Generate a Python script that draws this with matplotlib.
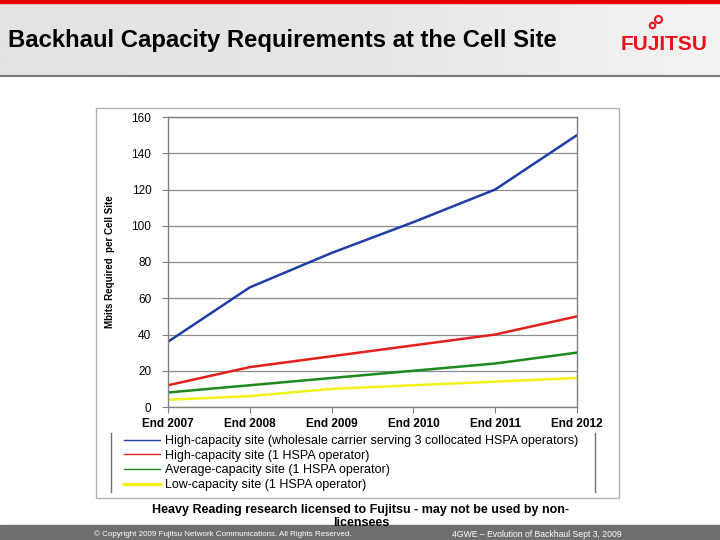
import numpy as np
import matplotlib.pyplot as plt
from matplotlib.colors import LinearSegmentedColormap
from matplotlib.patches import Rectangle
from matplotlib.lines import Line2D

years = ["End 2007", "End 2008", "End 2009", "End 2010", "End 2011", "End 2012"]

wholesale_site = [36, 66, 85, 102, 120, 150]
high_site = [12, 22, 28, 34, 40, 50]
average_site = [8, 12, 16, 20, 24, 30]
low_site = [4, 6, 10, 12, 14, 16]

labels = ["High-capacity site (wholesale carrier serving 3 collocated HSPA operators)",
          "High-capacity site (1 HSPA operator)",
          "Average-capacity site (1 HSPA operator)",
          "Low-capacity site (1 HSPA operator)"]
colors = ["#1f3ea6", "#e3201b", "#1e8a1e", "#f2f21a"]

W, H = 720, 540
fig = plt.figure(figsize=(7.2, 5.4), dpi=100)
fig.patch.set_facecolor("white")
FONT = "Liberation Sans"


def fx(x):
    return x / W


def fy(y):
    return 1 - y / H


# header band
hdr = fig.add_axes([0, fy(76), 1, 76 / H])
grad = np.linspace(0, 1, 256)[None, :]
hdr.imshow(grad, aspect="auto", extent=[0, 1, 0, 1],
           cmap=LinearSegmentedColormap.from_list("g", ["#e3e3e3", "#e6e6e6", "#f3f3f3"]))
hdr.axis("off")
fig.patches.append(Rectangle((0, fy(3)), 1, 3 / H, transform=fig.transFigure,
                             color="#e80000", zorder=3))
fig.add_artist(Line2D([0, 1], [fy(76), fy(76)], transform=fig.transFigure,
                      color="#7a7a7a", lw=1.5))
fig.text(fx(8), fy(40), "Backhaul Capacity Requirements at the Cell Site",
         family=FONT, weight="bold", fontsize=17.2, va="center", ha="left")
fig.text(fx(664), fy(45), "FUJITSU", family=FONT, weight="bold",
         fontsize=15, color="#e8141c", va="center", ha="center")
# little rings of the logo
fig.add_artist(Line2D([fx(652)], [fy(25)], transform=fig.transFigure, marker="o", ms=4,
                      mfc="none", mec="#e8141c", mew=1.5, ls="none"))
fig.add_artist(Line2D([fx(658)], [fy(19)], transform=fig.transFigure, marker="o", ms=5,
                      mfc="none", mec="#e8141c", mew=1.5, ls="none"))

# chart frame
fig.patches.append(Rectangle((fx(96), fy(498)), (619 - 96) / W, (498 - 108) / H,
                             transform=fig.transFigure, fill=False,
                             edgecolor="#b4b4b4", lw=1))

ax = fig.add_axes([fx(168), fy(407), (577 - 168) / W, (407 - 117) / H])
x = np.arange(len(years))
series = [wholesale_site, high_site, average_site, low_site]
for vals, c, lab in zip(series, colors, labels):
    ax.plot(x, vals, color=c, lw=1.8, label=lab)

ax.set_xlim(0, len(years) - 1)
ax.set_ylim(0, 160)
ax.set_yticks(range(0, 161, 20))
ax.set_xticks(x)
ax.set_xticklabels(years, family=FONT, weight="bold", fontsize=8.5)
ax.tick_params(axis="y", labelsize=8.5, length=4, color="#808080", pad=8)
ax.tick_params(axis="x", length=4, color="#808080", pad=4)
for lbl in ax.get_yticklabels():
    lbl.set_family(FONT)
ax.grid(axis="y", color="#8c8c8c", lw=0.9)
ax.set_axisbelow(True)
for s in ax.spines.values():
    s.set_color("#808080")
    s.set_linewidth(1)
ax.set_ylabel("Mbits Required  per Cell Site", family=FONT,
              weight="bold", fontsize=7, labelpad=12)

# legend
handles = [Line2D([], [], color=c, lw=(1 if c != colors[3] else 2.5)) for c in colors]
leg = fig.legend(handles, labels, loc="upper left", bbox_to_anchor=(fx(124), fy(435)),
                 frameon=False, prop={"family": FONT, "size": 9},
                 handlelength=2.9, handletextpad=0.35, labelspacing=0.22,
                 borderaxespad=0, borderpad=0)
for xx in (111, 595):
    fig.add_artist(Line2D([fx(xx), fx(xx)], [fy(433), fy(492)], transform=fig.transFigure,
                          color="#707070", lw=1))

# footer
fig.patches.append(Rectangle((0, 0), 1, 15 / H, transform=fig.transFigure,
                             color="#6e6e6e", zorder=1))
fig.text(fx(94), fy(534.5), "\u00a9 Copyright 2009 Fujitsu Network Communications. All Rights Reserved.",
         family=FONT, fontsize=5.8, color="white", va="center", ha="left")
fig.text(fx(452), fy(534.5), "4GWE \u2013 Evolution of Backhaul Sept 3, 2009",
         family=FONT, fontsize=6.2, color="white", va="center", ha="left")
fig.text(fx(360), fy(509.5),
         "Heavy Reading research licensed to Fujitsu - may not be used by non-",
         family=FONT, weight="bold", fontsize=9, va="center", ha="center", zorder=5)
fig.text(fx(361), fy(522.5), "licensees",
         family=FONT, weight="bold", fontsize=9, va="center", ha="center", zorder=5)

fig.savefig("out.png", dpi=100)
